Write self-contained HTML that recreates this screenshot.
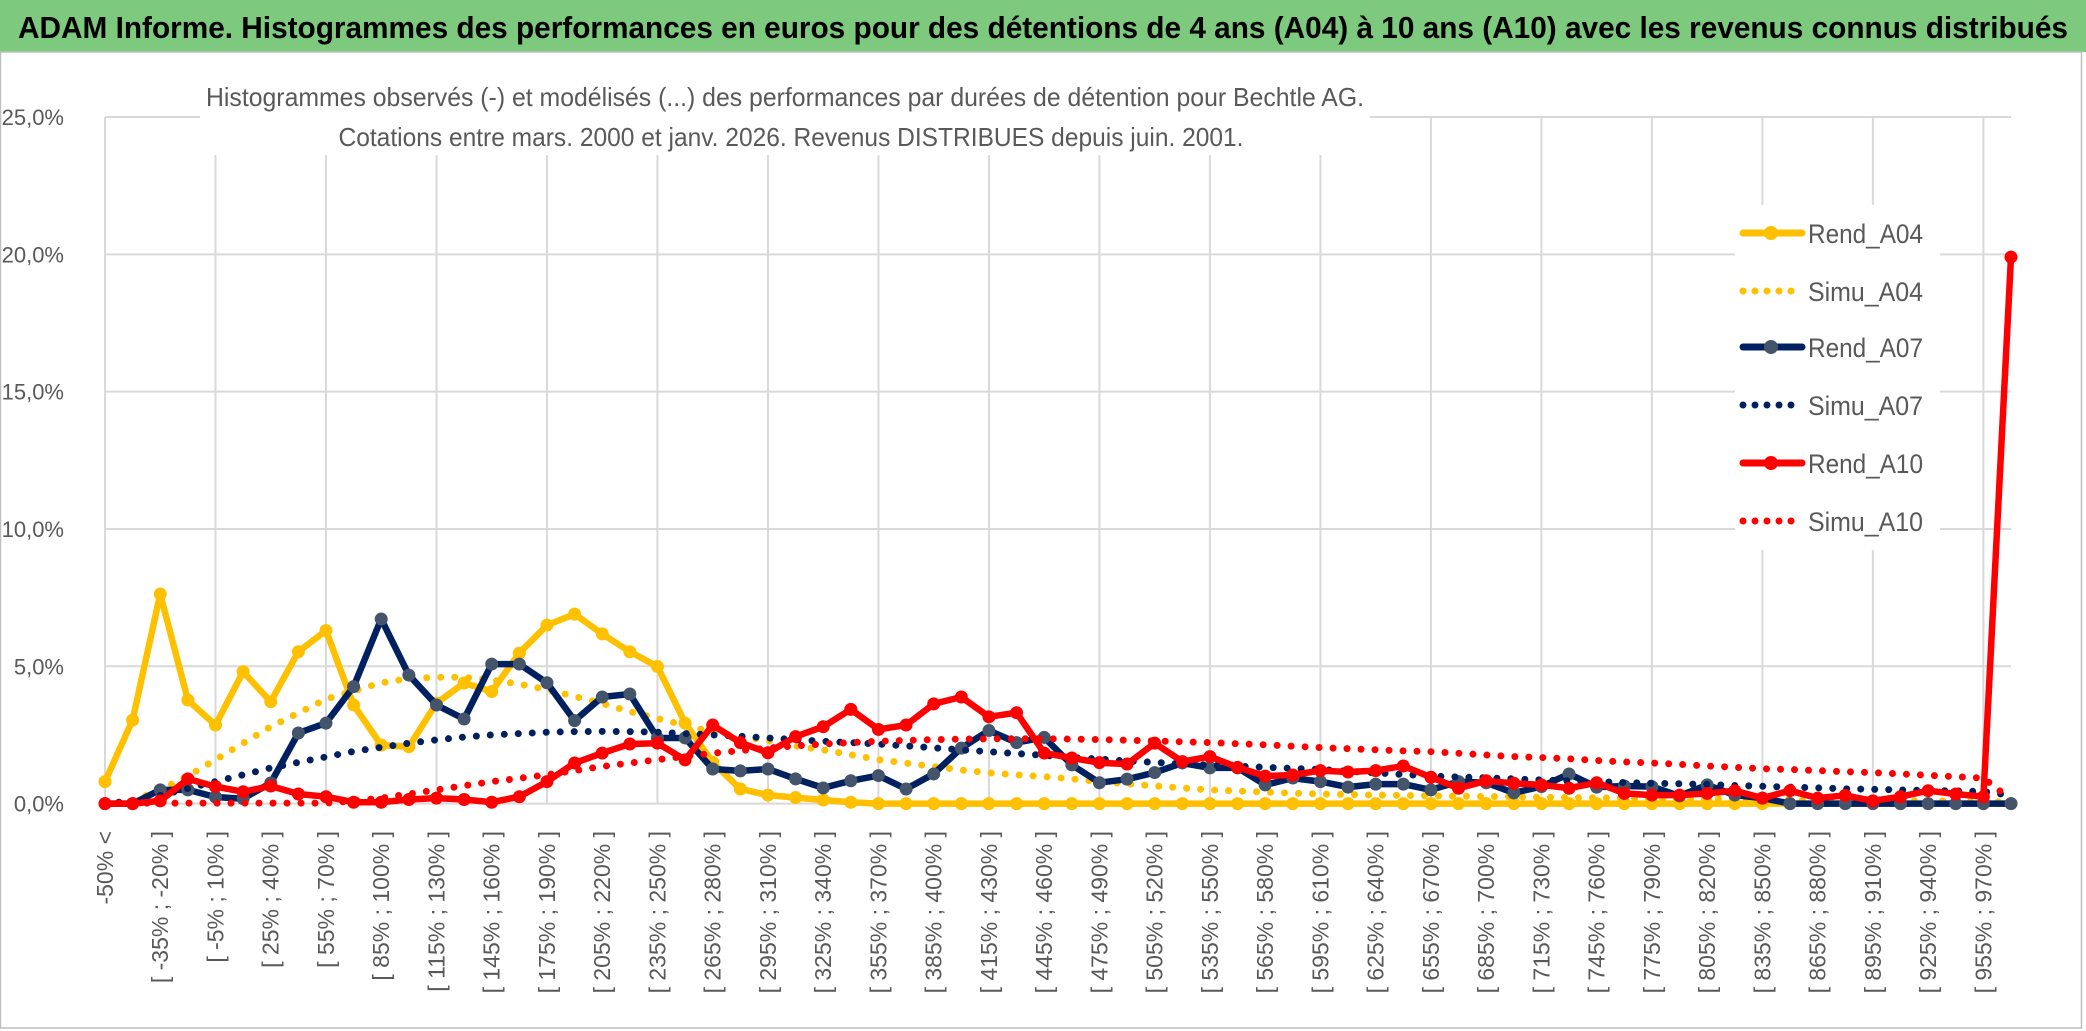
<!DOCTYPE html>
<html><head><meta charset="utf-8"><style>
html,body{margin:0;padding:0;background:#fff;}
svg{display:block;font-family:"Liberation Sans",sans-serif;}
</style></head><body>
<svg id="chart" width="2086" height="1031" viewBox="0 0 2086 1031" xmlns="http://www.w3.org/2000/svg">
<rect x="0" y="0" width="2086" height="1031" fill="#fff"/>
<rect x="0" y="0" width="2086" height="52" fill="#7dc97d"/>
<text x="18" y="38" font-size="31" font-weight="bold" fill="#000" textLength="2050" lengthAdjust="spacingAndGlyphs">ADAM Informe. Histogrammes des performances en euros pour des détentions de 4 ans (A04) à 10 ans (A10) avec les revenus connus distribués</text>
<rect x="0.5" y="52" width="2081" height="976" fill="none" stroke="#bfbfbf" stroke-width="1.5"/>
<g id="grid"></g>
<g id="yaxis"></g>
<g id="xaxis"></g>
<rect x="200" y="75" width="1170" height="80" fill="#fff"/>
<text x="785" y="106" font-size="26" fill="#595959" text-anchor="middle" textLength="1158" lengthAdjust="spacingAndGlyphs">Histogrammes observés (-) et modélisés (...) des performances par durées de détention pour Bechtle AG.</text>
<text x="791" y="146" font-size="26" fill="#595959" text-anchor="middle" textLength="905" lengthAdjust="spacingAndGlyphs">Cotations entre mars. 2000 et janv. 2026. Revenus DISTRIBUES depuis juin. 2001.</text>
<rect x="1735" y="205" width="205" height="345" fill="#fff"/>
<g id="series"></g>
<g id="legend"></g>
</svg>
<script>
const rendA04 = [0.8,3.04,7.63,3.77,2.86,4.8,3.71,5.53,6.3,3.59,2.13,2.07,3.66,4.39,4.08,5.48,6.5,6.9,6.18,5.53,4.99,2.93,1.5,0.53,0.31,0.22,0.13,0.05,0,0,0,0,0,0,0,0,0,0,0,0,0,0,0,0,0,0,0,0,0,0,0,0,0,0,0,0,0,0,0,0,0,0,0,0,0,0,0,0,0,0];
const simuA04 = [0,0.1,0.5,1.0,1.6,2.2,2.8,3.3,3.8,4.1,4.4,4.55,4.6,4.6,4.5,4.35,4.15,3.9,3.65,3.35,3.1,2.85,2.6,2.45,2.3,2.1,1.95,1.78,1.6,1.47,1.35,1.22,1.12,1.05,0.98,0.9,0.8,0.72,0.64,0.57,0.5,0.46,0.42,0.38,0.35,0.33,0.31,0.3,0.28,0.27,0.26,0.25,0.23,0.22,0.21,0.2,0.19,0.18,0.17,0.16,0.15,0.14,0.13,0.12,0.11,0.1,0.1,0.09,0.08,0.05];
const rendA07 = [0,0,0.5,0.5,0.24,0.18,0.75,2.57,2.93,4.26,6.72,4.68,3.59,3.08,5.08,5.08,4.4,3.02,3.88,3.99,2.39,2.39,1.26,1.19,1.26,0.9,0.57,0.83,1.02,0.53,1.08,2.02,2.66,2.22,2.41,1.41,0.76,0.89,1.13,1.48,1.3,1.3,0.68,0.93,0.8,0.6,0.71,0.71,0.5,0.8,0.76,0.39,0.62,1.08,0.6,0.64,0.62,0.28,0.68,0.31,0.2,0,0,0,0,0,0,0,0,0];
const simuA07 = [0,0.1,0.3,0.55,0.8,1.05,1.3,1.5,1.7,1.9,2.05,2.2,2.32,2.42,2.5,2.55,2.6,2.62,2.63,2.62,2.6,2.55,2.5,2.45,2.39,2.33,2.27,2.22,2.17,2.1,2.03,1.96,1.89,1.82,1.76,1.68,1.62,1.55,1.5,1.45,1.4,1.36,1.32,1.28,1.24,1.18,1.12,1.06,1.0,0.97,0.94,0.9,0.86,0.83,0.8,0.77,0.74,0.72,0.7,0.66,0.63,0.6,0.57,0.54,0.52,0.5,0.48,0.46,0.44,0.3];
const rendA10 = [0,0,0.1,0.9,0.62,0.43,0.64,0.35,0.25,0.05,0.05,0.15,0.2,0.15,0.05,0.25,0.8,1.48,1.84,2.17,2.2,1.59,2.86,2.22,1.85,2.44,2.8,3.43,2.7,2.86,3.63,3.88,3.16,3.31,1.84,1.66,1.49,1.44,2.2,1.53,1.71,1.32,1.0,1.04,1.2,1.15,1.2,1.37,0.96,0.56,0.83,0.74,0.68,0.56,0.76,0.37,0.31,0.31,0.37,0.47,0.2,0.47,0.2,0.3,0.1,0.25,0.47,0.35,0.25,19.9];
const simuA10 = [0.02,0.02,0.02,0.02,0.02,0.02,0.02,0.02,0.02,0.1,0.2,0.35,0.5,0.65,0.8,0.92,1.05,1.2,1.35,1.48,1.6,1.72,1.83,1.93,2.02,2.1,2.17,2.22,2.27,2.3,2.33,2.35,2.36,2.36,2.36,2.35,2.33,2.31,2.28,2.25,2.22,2.18,2.14,2.09,2.04,2.0,1.96,1.92,1.89,1.83,1.77,1.71,1.68,1.63,1.57,1.52,1.48,1.43,1.37,1.32,1.27,1.24,1.2,1.16,1.13,1.08,1.03,0.98,0.93,0.15];
const yTicks = [0,5,10,15,20,25];
const yTickLabels = ["0,0%","5,0%","10,0%","15,0%","20,0%","25,0%"];
const catStarts = [];
for (let v = -50; v < 970; v += 15) catStarts.push(v);

const NS = "http://www.w3.org/2000/svg";
const X0 = 105, X1 = 2011, Y0 = 803.6, YTOP = 117;
const N = rendA04.length;
function xs(i){ return X0 + (X1 - X0) * i / (N - 1); }
function ys(v){ return Y0 - (Y0 - YTOP) * v / 25; }
function mk(tag, attrs, parent){
  const e = document.createElementNS(NS, tag);
  for (const k in attrs) e.setAttribute(k, attrs[k]);
  parent.appendChild(e);
  return e;
}
const categories = ["-50% <"];
for (let k = 0; k < catStarts.length; k++) categories.push("[ " + catStarts[k] + "% ; " + (catStarts[k] + 15) + "% ]");
categories.push("> 970%");

const grid = document.getElementById('grid');
yTicks.forEach(t => {
  const l = mk('line', {x1:X0, x2:X1, y1:ys(t), y2:ys(t), stroke:'#d9d9d9', 'stroke-width':2}, grid);
  
  
});
for (let i = 0; i < N; i += 4) {
  const l = mk('line', {x1:xs(i), x2:xs(i), y1:YTOP, y2:Y0, stroke:'#d9d9d9', 'stroke-width':2}, grid);
  
  
}
const yaxis = document.getElementById('yaxis');
yTicks.forEach((t, k) => {
  const tx = mk('text', {x:64, y:ys(t) + 8, 'font-size':22, fill:'#595959', 'text-anchor':'end'}, yaxis);
  tx.textContent = yTickLabels[k];
  
  
});
const xaxis = document.getElementById('xaxis');
for (let i = 0; i < N; i += 2) {
  const x = xs(i) + 8, y = 831;
  const tx = mk('text', {x:x, y:y, 'font-size':23, fill:'#595959', 'text-anchor':'end', transform:'rotate(-90 ' + x + ' ' + y + ')'}, xaxis);
  tx.textContent = categories[i];
  
  
}

const seriesG = document.getElementById('series');
const seriesDefs = [
  {name:'Rend_A04', data:rendA04, color:'#FFC000', marker:'#FFC000', dotted:false},
  {name:'Simu_A04', data:simuA04, color:'#FFC000', dotted:true},
  {name:'Rend_A07', data:rendA07, color:'#002060', marker:'#44546A', dotted:false},
  {name:'Simu_A07', data:simuA07, color:'#002060', dotted:true},
  {name:'Rend_A10', data:rendA10, color:'#FF0000', marker:'#FF0000', dotted:false},
  {name:'Simu_A10', data:simuA10, color:'#FF0000', dotted:true}
];
seriesDefs.forEach(s => {
  const g = mk('g', {}, seriesG);
  
  
  const pts = s.data.map((v, i) => xs(i).toFixed(1) + ',' + ys(v).toFixed(1)).join(' ');
  const pl = mk('polyline', {points:pts, fill:'none', stroke:s.color, 'stroke-width': s.dotted ? 7 : 6.5, 'stroke-linejoin':'round', 'stroke-linecap':'round'}, g);
  if (s.dotted) pl.setAttribute('stroke-dasharray', '0 14');
  
  
  if (!s.dotted) {
    s.data.forEach((v, i) => {
      const c = mk('circle', {cx:xs(i), cy:ys(v), r:6.5, fill:s.marker}, g);
      
      
    });
  }
});

const legend = document.getElementById('legend');
const legendY = [233, 291, 347, 405, 463, 521];
seriesDefs.forEach((s, k) => {
  const g = mk('g', {}, legend);
  
  
  const y = legendY[k];
  const l = mk('line', {x1:1743, x2:1802, y1:y, y2:y, stroke:s.color, 'stroke-width': s.dotted ? 7 : 7, 'stroke-linecap':'round'}, g);
  if (s.dotted) l.setAttribute('stroke-dasharray', '0 12');
  
  
  if (!s.dotted) {
    const c = mk('circle', {cx:1771, cy:y, r:7, fill:s.marker}, g);
    
    
  }
  const t = mk('text', {x:1808, y:y + 10, 'font-size':27, fill:'#595959', textLength:'115', lengthAdjust:'spacingAndGlyphs'}, g);
  t.textContent = s.name;
  
  
});
</script>
</body></html>
